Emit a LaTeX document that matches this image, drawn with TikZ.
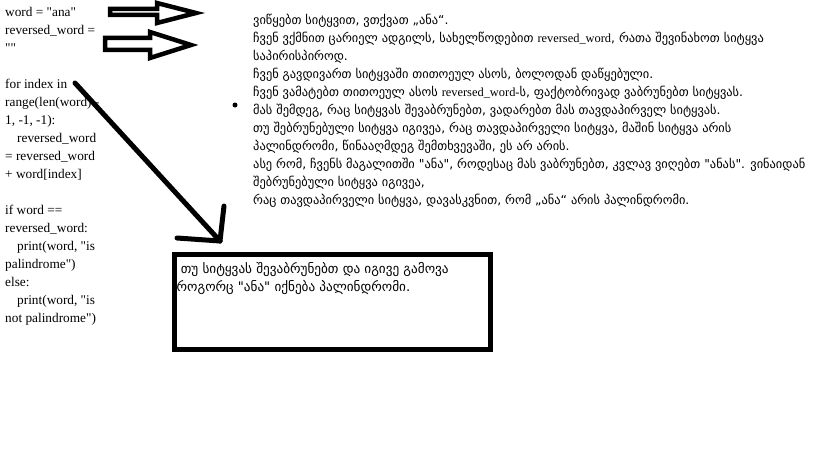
\documentclass[tikz,border=0pt]{standalone}
\usepackage{fontspec}
\setmainfont{Liberation Serif}[Ligatures=TeXOff]
\newfontfamily\geofont{DejaVu Sans}
\newcommand{\lt}[1]{{\rmfamily #1}}
\usetikzlibrary{positioning}

\begin{document}
\begin{tikzpicture}[x=1pt,y=-1pt,
  codetext/.style={align=left,inner sep=0pt,font=\fontsize{13.3}{18}\selectfont},
  notetext/.style={align=left,inner sep=0pt,font=\geofont\fontsize{12.4}{18}\selectfont},
  blockarrow/.style={draw=black,line width=4.5pt,line join=miter,fill=white},
  pen/.style={draw=black,line width=5pt,line cap=round},
  framebox/.style={draw=black,line width=5pt,outer sep=0pt,minimum width=316pt,minimum height=95pt,inner sep=0pt}
]
\useasboundingbox (0,0) rectangle (819,460);

% code on the left
\node[codetext,anchor=north west] (code) at (5,7) {%
word = "ana"\\
reversed\_word =\\
""\\[18pt]
for index in\\
range(len(word) -\\
1, -1, -1):\\
\hspace*{12pt}reversed\_word\\
= reversed\_word\\
+ word[index]\\[18pt]
if word ==\\
reversed\_word:\\
\hspace*{12pt}print(word, "is\\
palindrome")\\
else:\\
\hspace*{12pt}print(word, "is\\
not palindrome")};

% explanation on the right
\node[notetext,anchor=north west] (notes) at (253,14) {%
ვიწყებთ სიტყვით, ვთქვათ „ანა“.\\
ჩვენ ვქმნით ცარიელ ადგილს, სახელწოდებით \lt{reversed\_word}, რათა შევინახოთ სიტყვა\\
საპირისპიროდ.\\
ჩვენ გავდივართ სიტყვაში თითოეულ ასოს, ბოლოდან დაწყებული.\\
ჩვენ ვამატებთ თითოეულ ასოს \lt{reversed\_word-}ს, ფაქტობრივად ვაბრუნებთ სიტყვას.\\
მას შემდეგ, რაც სიტყვას შევაბრუნებთ, ვადარებთ მას თავდაპირველ სიტყვას.\\
თუ შებრუნებული სიტყვა იგივეა, რაც თავდაპირველი სიტყვა, მაშინ სიტყვა არის\\
პალინდრომი, წინააღმდეგ შემთხვევაში, ეს არ არის.\\
ასე რომ, ჩვენს მაგალითში "ანა", როდესაც მას ვაბრუნებთ, კვლავ ვიღებთ "ანას". ვინაიდან\\
შებრუნებული სიტყვა იგივეა,\\
რაც თავდაპირველი სიტყვა, დავასკვნით, რომ „ანა“ არის პალინდრომი.};

\node[circle,fill=black,inner sep=0pt,minimum size=5pt] (dot) at (235,105) {};

% block arrows
\draw[blockarrow] (110,9) -- (157,9) -- (157,3) -- (196,13) -- (157,23) -- (157,15) -- (110,15) -- cycle;
\draw[blockarrow] (105,38) -- (150,38) -- (150,32) -- (191,45) -- (150,58) -- (150,50) -- (105,50) -- cycle;

% answer box
\node[framebox,anchor=north west] (answer) at (174.5,254.5) {};
\node[notetext,anchor=north west,font=\geofont\fontsize{13.2}{18}\selectfont] (answertext) at ([xshift=2pt,yshift=-8pt]answer.north west) {%
\ თუ სიტყვას შევაბრუნებთ და იგივე გამოვა\\
როგორც "ანა" იქნება პალინდრომი.};

% hand drawn arrow
\coordinate (start) at (75,83);
\coordinate (tip) at (220,241);
\draw[pen] (start) -- (tip);
\draw[pen] (tip) -- ++(4,-35);
\draw[pen] (tip) -- ++(-43,-3);
\end{tikzpicture}
\end{document}
